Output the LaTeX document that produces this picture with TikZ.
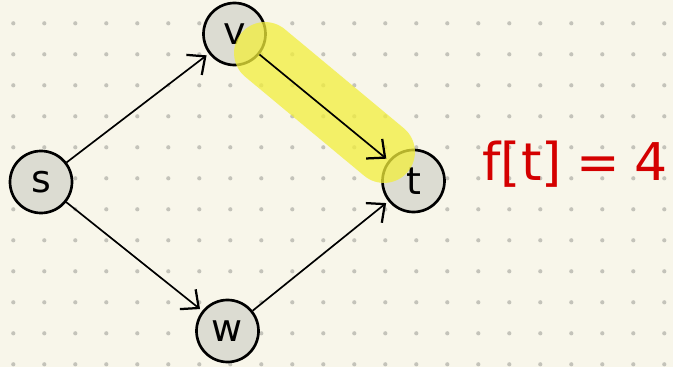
\documentclass[tikz,border=0pt]{standalone}
\usepackage{fontspec}
\newfontfamily\handfont{DejaVu Sans}
\usepackage{xcolor}
\usepackage{tikz}
\usetikzlibrary{arrows.meta}

\definecolor{paper}{HTML}{F8F6EA}
\definecolor{dotgrey}{HTML}{C4C3BA}
\definecolor{nodegrey}{HTML}{DCDCD2}
\definecolor{marker}{HTML}{F2EE3C}
\definecolor{inkred}{HTML}{D40000}

\begin{document}
\begin{tikzpicture}[x=0.025cm, y=-0.025cm,
    vertex/.style={draw, circle, line width=1.9pt, fill=nodegrey, minimum size=1.55cm,
                   inner sep=0pt, font=\handfont\fontsize{27}{27}\selectfont},
    edge/.style={line width=1.2pt, -{Straight Barb[length=10pt, width=18pt, line width=1.6pt]},
                 shorten >=2pt}]
  % paper and dot grid
  \fill[paper] (0,0) rectangle (673,367);
  \foreach \i in {0,...,21}
    \foreach \j in {0,...,11}
      \fill[dotgrey] (13.3+31*\i, 23.3+31*\j) circle (1.5pt);

  % vertices
  \node[vertex] (s) at (41,182) {s};
  \node[vertex] (v) at (234.5,34) {v};
  \node[vertex] (t) at (413.5,181) {t};
  \node[vertex] (w) at (227.5,331) {w};

  % highlighted path
  \coordinate (hlA) at (265,53);
  \coordinate (hlB) at (384,152);
  \draw[marker, opacity=0.75, line width=44pt, line cap=round] (hlA) -- (hlB);

  % edges
  \draw[edge] (s) -- (v);
  \draw[edge] (v) -- (t);
  \draw[edge] (s) -- (w);
  \draw[edge] (w) -- (t);

  % label
  \node[inkred, font=\handfont\fontsize{37}{37}\selectfont] (ft) at (575,164) {f[t]\;=\;4};
\end{tikzpicture}
\end{document}
